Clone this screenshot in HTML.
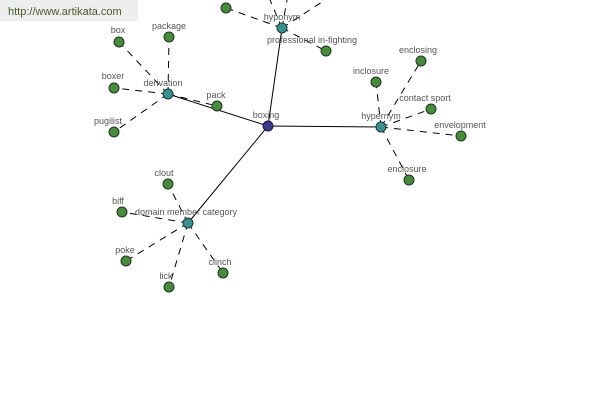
<!DOCTYPE html>
<html><head><style>
body{margin:0;background:#fff;width:600px;height:400px;overflow:hidden}
</style></head><body>
<svg width="600" height="400" xmlns="http://www.w3.org/2000/svg" style="position:absolute;left:0;top:0">
<rect x="0" y="0" width="138" height="21" fill="#eeeeee"/>
<text x="8" y="15" font-family="Liberation Sans, sans-serif" font-size="11" fill="#4a5a2a">http://www.artikata.com</text>
<g stroke="#000" stroke-width="1">
<line x1="268" y1="126" x2="168" y2="94"/>
<line x1="268" y1="126" x2="282" y2="28"/>
<line x1="268" y1="126" x2="381" y2="127"/>
<line x1="268" y1="126" x2="188" y2="223"/>
</g>
<g stroke="#000" stroke-width="1" stroke-dasharray="7,6">
<line x1="168" y1="94" x2="119" y2="42"/>
<line x1="168" y1="94" x2="169" y2="37"/>
<line x1="168" y1="94" x2="114" y2="88"/>
<line x1="168" y1="94" x2="114" y2="132"/>
<line x1="168" y1="94" x2="217" y2="106"/>
<line x1="282" y1="28" x2="226" y2="8"/>
<line x1="282" y1="28" x2="270" y2="0"/>
<line x1="282" y1="28" x2="287" y2="0"/>
<line x1="282" y1="28" x2="325" y2="0"/>
<line x1="282" y1="28" x2="326" y2="51"/>
<line x1="381" y1="127" x2="421" y2="61"/>
<line x1="381" y1="127" x2="376" y2="82"/>
<line x1="381" y1="127" x2="431" y2="109"/>
<line x1="381" y1="127" x2="461" y2="136"/>
<line x1="381" y1="127" x2="409" y2="180"/>
<line x1="188" y1="223" x2="168" y2="184"/>
<line x1="188" y1="223" x2="122" y2="212"/>
<line x1="188" y1="223" x2="126" y2="261"/>
<line x1="188" y1="223" x2="169" y2="287"/>
<line x1="188" y1="223" x2="223" y2="273"/>
</g>
<g fill="#4a8a3e" stroke="#1a3a1a" stroke-width="1">
<circle cx="119" cy="42" r="5"/><circle cx="169" cy="37" r="5"/><circle cx="114" cy="88" r="5"/>
<circle cx="114" cy="132" r="5"/><circle cx="217" cy="106" r="5"/><circle cx="226" cy="8" r="5"/>
<circle cx="326" cy="51" r="5"/><circle cx="421" cy="61" r="5"/><circle cx="376" cy="82" r="5"/>
<circle cx="431" cy="109" r="5"/><circle cx="461" cy="136" r="5"/><circle cx="409" cy="180" r="5"/>
<circle cx="168" cy="184" r="5"/><circle cx="122" cy="212" r="5"/><circle cx="126" cy="261" r="5"/>
<circle cx="169" cy="287" r="5"/><circle cx="223" cy="273" r="5"/>
</g>
<g fill="#3a8f8f" stroke="#1a3a3a" stroke-width="1">
<circle cx="168" cy="94" r="5"/><circle cx="282" cy="28" r="5"/><circle cx="381" cy="127" r="5"/><circle cx="188" cy="223" r="5"/>
</g>
<circle cx="268" cy="126" r="5" fill="#3a3a8a" stroke="#1a1a3a"/>
<g font-family="Liberation Sans, sans-serif" font-size="9" fill="#555" text-anchor="middle">
<text x="118" y="33">box</text><text x="169" y="29">package</text><text x="113" y="79">boxer</text>
<text x="108" y="124">pugilist</text><text x="163" y="86">derivation</text><text x="216" y="98">pack</text>
<text x="266" y="118">boxing</text><text x="282" y="20">hyponym</text>
<text x="312" y="43">professional in-fighting</text>
<text x="418" y="53">enclosing</text><text x="371" y="74">inclosure</text><text x="425" y="101">contact sport</text>
<text x="460" y="128">envelopment</text><text x="381" y="119">hypernym</text><text x="407" y="172">enclosure</text>
<text x="164" y="176">clout</text><text x="118" y="204">biff</text><text x="186" y="215">domain member category</text>
<text x="125" y="253">poke</text><text x="166" y="279">lick</text><text x="220" y="265">clinch</text>
</g>
</svg>
</body></html>
